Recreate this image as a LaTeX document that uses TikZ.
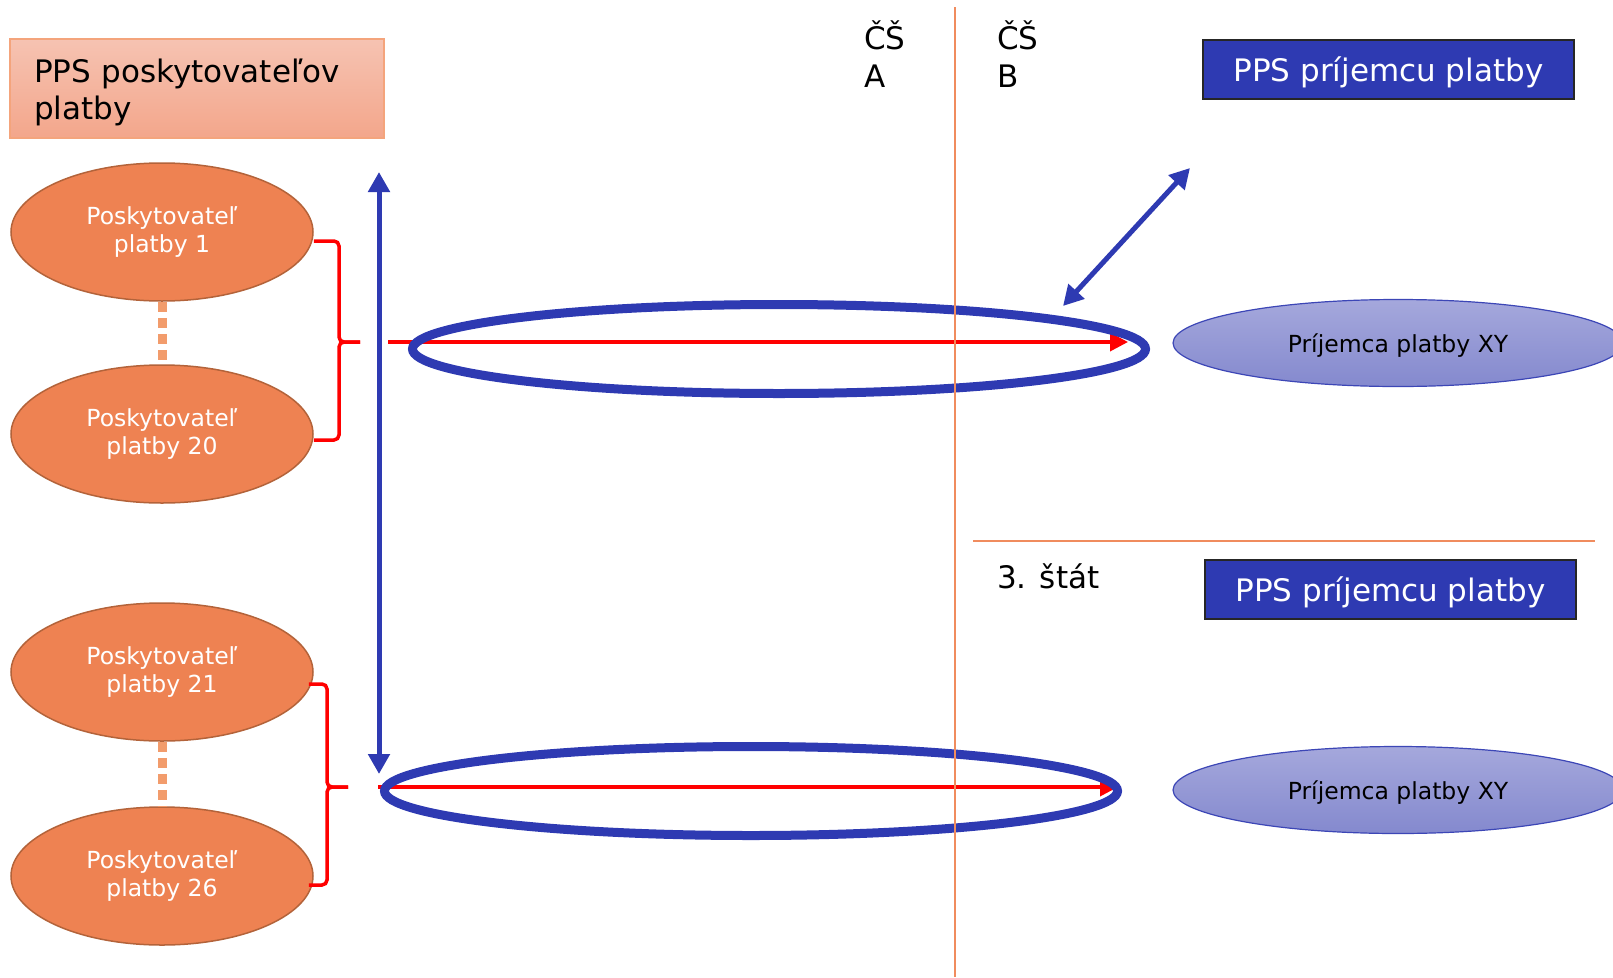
\documentclass[tikz,border=0pt]{standalone}
\usepackage{fontspec}
\setmainfont{DejaVu Sans}
\usepackage{tikz}
\usetikzlibrary{shapes.geometric,arrows.meta}
\definecolor{pblue}{HTML}{2E3AB2}
\definecolor{porange}{HTML}{EE8252}
\definecolor{pbrown}{HTML}{B3633A}
\definecolor{psalmonT}{HTML}{F6C3B2}
\definecolor{psalmonB}{HTML}{F3A68B}
\definecolor{pedge}{HTML}{F4A47C}
\definecolor{pline}{HTML}{F08C5E}
\definecolor{pdots}{HTML}{F29C6C}
\definecolor{lavT}{HTML}{A5A8DC}
\definecolor{lavB}{HTML}{8489CE}
\definecolor{lavedge}{HTML}{3C46B6}
\definecolor{pred}{HTML}{FF0000}
\tikzset{
  ppsbox/.style={draw=pedge, line width=1.5pt, top color=psalmonT, bottom color=psalmonB,
    minimum height=99pt, text width=326pt, inner xsep=24pt, inner ysep=0pt, align=left,
    font=\fontsize{31}{37}\selectfont, execute at begin node={\rule{0pt}{32pt}}},
  recbox/.style={draw=black!85, line width=2pt, fill=pblue, text=white, minimum width=371pt,
    minimum height=59pt, inner sep=0pt, text depth=0pt, font=\fontsize{31}{37}\selectfont},
  payer/.style={ellipse, draw=pbrown, line width=1.5pt, fill=porange, text=white,
    minimum width=302pt, minimum height=138pt, inner sep=0pt, align=center,
    font=\fontsize{23.5}{28}\selectfont, execute at begin node={\rule{0pt}{30pt}}},
  payee/.style={ellipse, draw=lavedge, line width=1.2pt, top color=lavT, bottom color=lavB,
    minimum width=450pt, minimum height=87pt, inner sep=0pt, text depth=0pt,
    font=\fontsize{23.5}{28}\selectfont},
  grp/.style={ellipse, draw=pblue, line width=9pt, minimum width=733pt, minimum height=89pt},
  dots/.style={draw=pdots, line width=9pt, dash pattern=on 10pt off 6pt},
  brk/.style={draw=pred, line width=3.5pt, rounded corners=5pt},
  flow/.style={draw=pred, line width=3.5pt, -{Triangle[length=18pt,width=18pt]}},
  link/.style={draw=pblue, line width=5pt, {Triangle[length=20pt,width=21pt]}-{Triangle[length=20pt,width=21pt]}},
  divide/.style={draw=pline, line width=2pt},
  lab/.style={font=\fontsize{31}{38}\selectfont, align=left, inner sep=0pt}
}
\begin{document}
\begin{tikzpicture}[x=1pt,y=-1pt]
  \clip (0,0) rectangle (1613,977);

  \node[lab, anchor=west] (csA) at (864,54) {ČŠ\\A};
  \node[lab, anchor=west] (csB) at (997,54) {ČŠ\\B};
  \node[lab, anchor=west] (third) at (997,576) {3. štát};

  % payer side
  \node[ppsbox] (ppsA) at (197,88.5) {PPS poskytovateľov\\platby};
  \node[payer] (e1) at (162,232) {Poskytovateľ\\platby 1};
  \node[payer] (e2) at (162,434) {Poskytovateľ\\platby 20};
  \node[payer] (e3) at (162,672) {Poskytovateľ\\platby 21};
  \node[payer] (e4) at (162,876) {Poskytovateľ\\platby 26};

  \draw[dots] (e1) -- (e2);
  \draw[dots] (e3) -- (e4);

  % payee side
  \node[recbox] (ppsB) at (1388.5,69.5) {PPS príjemcu platby};
  \node[recbox] (ppsC) at (1390.5,589.5) {PPS príjemcu platby};
  \node[payee] (xy1) at (1398,343) {Príjemca platby XY};
  \node[payee] (xy2) at (1398,790) {Príjemca platby XY};

  % braces round the payers
  \coordinate (b1) at (339,342);
  \coordinate (b1n) at (360,342);
  \coordinate (b2) at (327,787);
  \coordinate (b2n) at (348,787);
  \draw[brk] ([yshift=-9pt]e1.east) -| (b1) -- (b1n);
  \draw[brk] ([yshift=-6pt]e2.east) -| (b1) -- (b1n);
  \draw[brk] ([shift={(-5pt,-12pt)}]e3.east) -| (b2) -- (b2n);
  \draw[brk] ([shift={(-5pt,-9pt)}]e4.east) -| (b2) -- (b2n);

  \coordinate (r1a) at (388,342);
  \coordinate (r1b) at (1128,342);
  \coordinate (r2a) at (378,787);
  \coordinate (r2b) at (1118,787);
  \draw[flow] (r1a) -- (r1b);
  \draw[flow] (r2a) -- (r2b);

  % grouped transfers
  \node[grp] (g1) at (779,349) {};
  \node[grp] (g2) at (751,791) {};

  \coordinate (v1) at (379,172);
  \coordinate (v2) at (379,774);
  \coordinate (d1) at (1190,168);
  \coordinate (d2) at (1063,306);
  \draw[link] (v1) -- (v2);
  \draw[link] (d1) -- (d2);

  % state borders
  \draw[divide] (955,7) -- (955,977);
  \draw[divide] (973,541) -- (1595,541);
\end{tikzpicture}
\end{document}
